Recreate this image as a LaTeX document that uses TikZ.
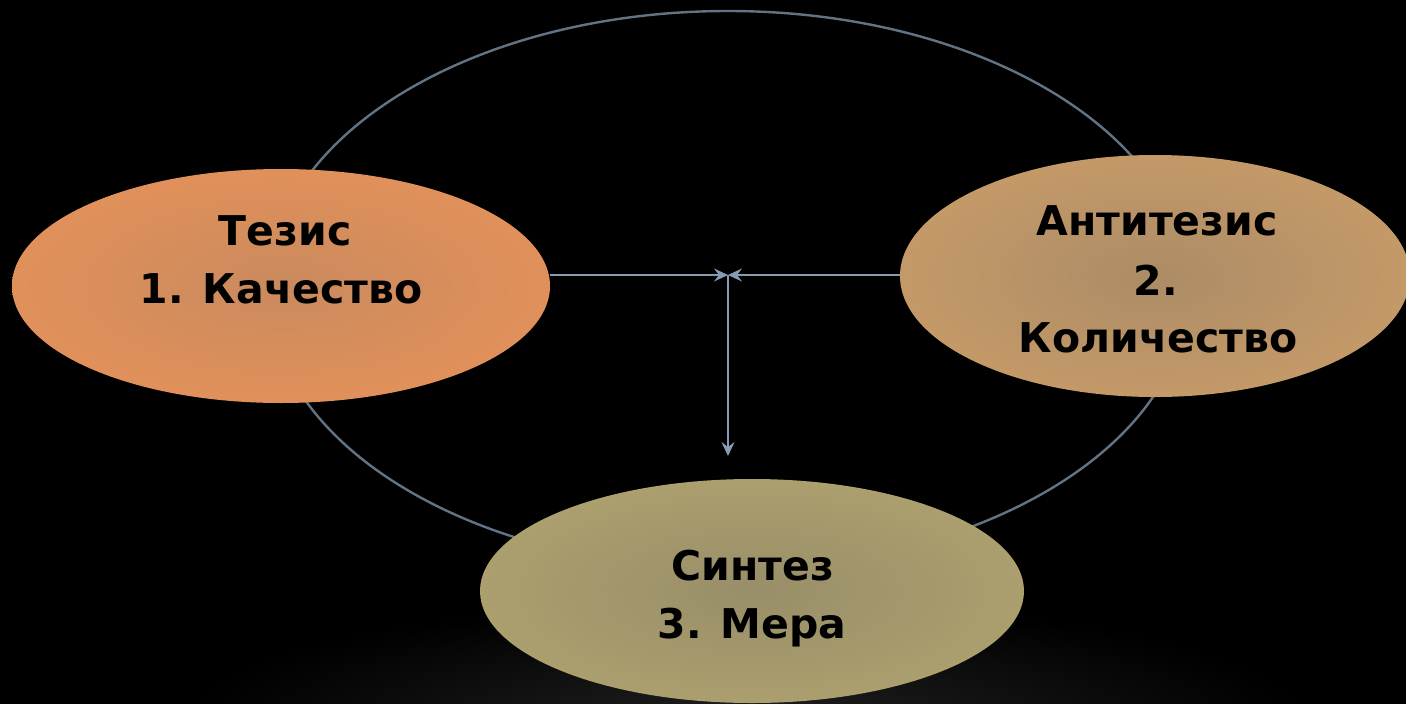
\documentclass[tikz,border=0pt]{standalone}
\usepackage{fontspec}
\setmainfont{DejaVu Sans}
\usetikzlibrary{shapes.geometric,arrows.meta}
\definecolor{tezE}{RGB}{244,150,86}
\definecolor{tezC}{RGB}{202,138,94}
\definecolor{antE}{RGB}{216,164,106}
\definecolor{antC}{RGB}{172,140,102}
\definecolor{sinE}{RGB}{188,173,116}
\definecolor{sinC}{RGB}{152,142,104}
\definecolor{cycC}{RGB}{98,116,132}
\definecolor{arrC}{RGB}{134,156,178}
\definecolor{glowC}{RGB}{32,32,32}
\pgfdeclareradialshading{tezsh}{\pgfpoint{0bp}{0bp}}{color(0bp)=(tezC); color(46bp)=(tezE); color(100bp)=(tezE)}
\pgfdeclareradialshading{antsh}{\pgfpoint{0bp}{0bp}}{color(0bp)=(antC); color(46bp)=(antE); color(100bp)=(antE)}
\pgfdeclareradialshading{sinsh}{\pgfpoint{0bp}{0bp}}{color(0bp)=(sinC); color(46bp)=(sinE); color(100bp)=(sinE)}
\tikzset{
  blob/.style={ellipse, inner sep=0pt, draw=none, shade},
  cycle/.style={ellipse, draw=cycC, line width=2.4pt, inner sep=0pt},
  txt/.style={font=\bfseries\fontsize{41}{48}\selectfont, text=black, inner sep=0pt, anchor=base},
  arr/.style={draw=arrC, line width=2.4pt, -{Stealth[length=14pt,width=13pt,inset=5pt]}}
}
\begin{document}
\begin{tikzpicture}[x=1pt,y=-1pt]
\fill[black] (0,0) rectangle (1406,704);
\useasboundingbox (0,0) rectangle (1406,704);
\begin{scope}
  \clip (0,0) rectangle (1406,704);
  \shade[inner color=glowC, outer color=black] (745,722) ellipse (560 and 120);
\end{scope}
% big cycle ellipse
\node[cycle, minimum width=920pt, minimum height=558pt] (cyc) at (728,290) {};
% arrow junction and free end
\coordinate (m) at (728,275);
\coordinate (v) at (728,456);
% filled ellipses
\node[blob, shading=tezsh, minimum width=538pt, minimum height=234pt] (teza) at (281,286) {};
\node[blob, shading=antsh, minimum width=510pt, minimum height=242pt] (anti) at (1155,276) {};
\node[blob, shading=sinsh, minimum width=544pt, minimum height=224pt] (sint) at (752,591) {};
\draw[arr] (teza.east |- m) -- (m);
\draw[arr] (anti.west |- m) -- (m);
\draw[arr] (m) -- (v);
% texts
\node[txt] (teza1) at (285,245) {Тезис};
\node[txt] (teza2) at (281,303) {1. Качество};
\node[txt] (anti1) at (1157,235) {Антитезис};
\node[txt] (anti2) at (1156,295) {2.};
\node[txt] (anti3) at (1158,352) {Количество};
\node[txt] (sint1) at (753,580) {Синтез};
\node[txt] (sint2) at (752,638) {3. Мера};
\end{tikzpicture}
\end{document}
